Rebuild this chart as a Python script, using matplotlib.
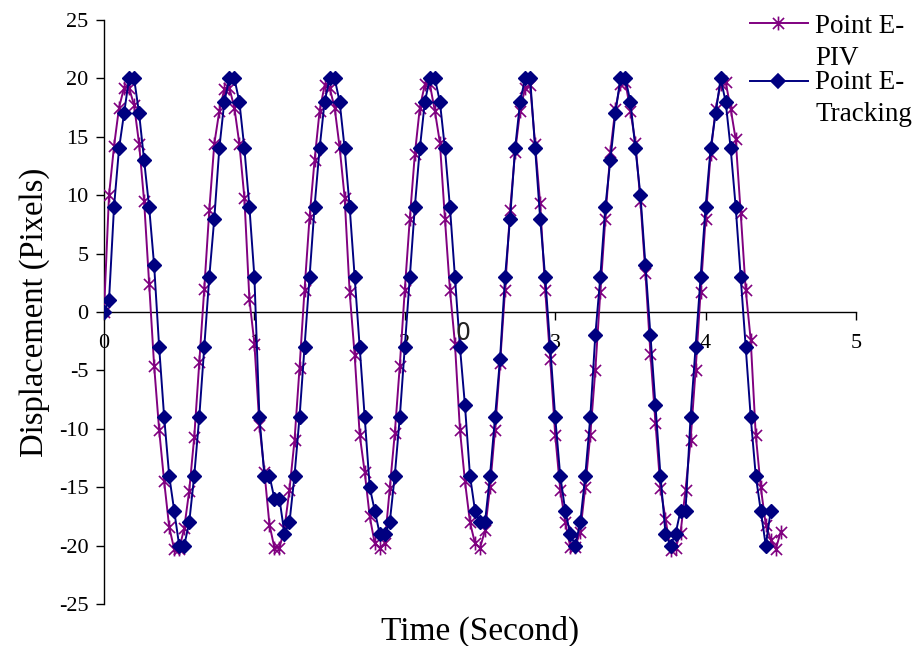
import numpy as np
import matplotlib
matplotlib.use("Agg")
import matplotlib.pyplot as plt
from matplotlib.path import Path
from matplotlib.lines import Line2D

# Displacement of point E sampled at 30 frames per second
frame_rate = 30.0

piv_displacement = [
    0, 10, 14.2, 17.5, 19.2, 19.2, 17.7, 14.4, 9.5, 2.4,
    -4.6, -10.1, -14.5, -18.4, -20.3, -20.3, -18.5, -15.3, -10.7, -4.3,
    2.0, 8.7, 14.4, 17.2, 19.1, 19.2, 17.5, 14.4, 9.8, 1.1,
    -2.7, -9.7, -13.7, -18.2, -20.2, -20.2, -18.5, -15.2, -11.0, -4.8,
    1.9, 8.1, 13.0, 17.2, 19.4, 19.2, 17.5, 14.1, 9.8, 1.7,
    -3.7, -10.5, -13.7, -17.5, -19.8, -20.2, -19.8, -15.1, -10.4, -4.6,
    1.9, 8.0, 13.5, 17.5, 19.5, 19.5, 17.2, 14.5, 8.0, 1.9,
    -2.7, -10.1, -14.5, -18.0, -19.8, -20.2, -18.7, -15.0, -10.1, -4.4,
    1.9, 8.7, 13.7, 17.2, 19.2, 19.4, 14.4, 9.3, 1.9, -4.0,
    -10.5, -15.2, -18.0, -20.1, -20.1, -18.8, -15.0, -10.5, -5.0, 1.7,
    8.0, 13.7, 17.4, 19.5, 19.7, 17.2, 14.5, 9.5, 3.3, -3.6,
    -9.5, -15.1, -17.7, -20.4, -20.2, -18.9, -15.2, -11.0, -5.0, 1.7,
    8.0, 13.5, 17.4, 19.5, 19.7, 17.4, 14.8, 8.5, 1.9, -2.4,
    -10.5, -15.0, -18.2, -19.5, -20.3, -18.8,
]

tracking_displacement = [
    0, 1, 9, 14, 17, 20, 20, 17, 13, 9,
    4, -3, -9, -14, -17, -20, -20, -18, -14, -9,
    -3, 3, 8, 14, 18, 20, 20, 18, 14, 9,
    3, -9, -14, -14, -16, -16, -19, -18, -14, -9,
    -3, 3, 9, 14, 18, 20, 20, 18, 14, 9,
    3, -3, -9, -15, -17, -19, -19, -18, -14, -9,
    -3, 3, 9, 14, 18, 20, 20, 18, 14, 9,
    3, -3, -8, -14, -17, -18, -18, -14, -9, -4,
    3, 8, 14, 18, 20, 20, 14, 8, 3, -3,
    -9, -14, -17, -19, -20, -18, -14, -9, -2, 3,
    9, 13, 17, 20, 20, 18, 14, 10, 4, -2,
    -8, -14, -19, -20, -19, -17, -17, -9, -3, 3,
    9, 14, 17, 20, 18, 14, 9, 3, -3, -9,
    -14, -17, -20, -17,
]

piv_time = np.arange(len(piv_displacement)) / frame_rate
tracking_time = np.arange(len(tracking_displacement)) / frame_rate

x_ticks = [0, 1, 2, 3, 4, 5]
y_ticks = [-25, -20, -15, -10, -5, 0, 5, 10, 15, 20, 25]

piv_label = "Point E-\nPIV"
tracking_label = "Point E-\nTracking"

piv_color = "#800080"
tracking_color = "#000080"

plt.rcParams["font.family"] = ["Liberation Serif", "DejaVu Serif"]

# asterisk-style marker: an X crossed by a vertical stroke
star_marker = Path(
    [(-1, -1), (1, 1), (-1, 1), (1, -1), (0, -1.25), (0, 1.25)],
    [Path.MOVETO, Path.LINETO, Path.MOVETO, Path.LINETO, Path.MOVETO, Path.LINETO],
)

fig = plt.figure(figsize=(9.2, 6.46), dpi=100)
ax = fig.add_axes([104 / 920, 1 - 604 / 646, (856 - 104) / 920, (604 - 20) / 646])

ax.plot(piv_time, piv_displacement, color=piv_color, lw=1.4,
        marker=star_marker, markersize=10, markeredgewidth=1.2,
        markerfacecolor="none", markeredgecolor=piv_color, zorder=3)
ax.plot(tracking_time, tracking_displacement, color=tracking_color, lw=1.4,
        marker="D", markersize=7.5, markerfacecolor=tracking_color,
        markeredgecolor=tracking_color, zorder=4)

ax.set_xlim(0, 5)
ax.set_ylim(-25, 25)
ax.set_xticks(x_ticks)
ax.set_yticks(y_ticks)
ax.set_xticklabels([str(t) for t in x_ticks])
ax.set_yticklabels([str(t) for t in y_ticks])

for side in ("top", "right"):
    ax.spines[side].set_visible(False)
ax.spines["bottom"].set_position(("data", 0))
ax.spines["left"].set_linewidth(1.0)
ax.spines["bottom"].set_linewidth(1.0)

ax.tick_params(axis="both", direction="out", length=6, width=1.0,
               labelsize=16, colors="black")
ax.tick_params(axis="x", pad=10)
ax.tick_params(axis="y", pad=5)

ax.text(2.39, -1.8, "0", fontsize=17, family="DejaVu Sans",
        ha="center", va="center", color="#222222", zorder=5)

fig.text(480 / 920, 1 - 631 / 646, "Time (Second)", fontsize=24,
         ha="center", va="center")
fig.text(35 / 920, 1 - 312 / 646, "Displacement (Pixels)", fontsize=23.5,
         ha="center", va="center", rotation=90)

# legend drawn beside the plot area
legend_items = [
    (23, 26, piv_color, star_marker, 10, "none", piv_label),
    (81, 82, tracking_color, "D", 7.5, tracking_color, tracking_label),
]
for line_px, text_px, color, marker, ms, face, label in legend_items:
    y = 1 - line_px / 646
    fig.add_artist(Line2D([750 / 920, 808 / 920], [y, y], color=color, lw=1.4))
    fig.add_artist(Line2D([778 / 920], [y], color=color, marker=marker,
                          markersize=ms, markerfacecolor=face,
                          markeredgecolor=color, markeredgewidth=1.2))
    fig.text(815 / 920, 1 - (text_px - 12) / 646, label, fontsize=19.5,
             ha="left", va="top", linespacing=1.35)

fig.savefig("out.png", dpi=100)
